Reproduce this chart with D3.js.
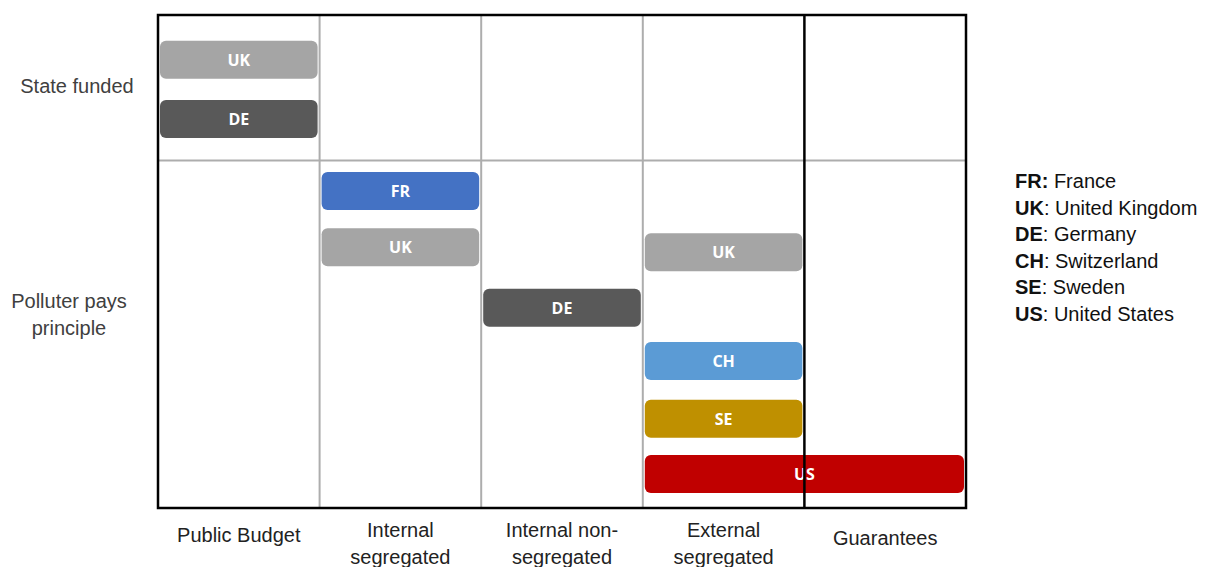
<!DOCTYPE html>
<html>
<head>
<meta charset="utf-8">
<script src="https://cdn.jsdelivr.net/npm/d3@7"></script>
<style>
  body { margin: 0; background: #fff; }
  text { font-family: "Liberation Sans", Arial, sans-serif; }
</style>
</head>
<body>
<div id="chart"></div>
<script>
// columns (mechanism) and rows (financing principle)
var columns = ["Public Budget", "Internal segregated", "Internal non-segregated", "External segregated", "Guarantees"];
var columnLines = [["Public Budget"], ["Internal", "segregated"], ["Internal non-", "segregated"], ["External", "segregated"], ["Guarantees"]];
var rowLabels = [["State funded"], ["Polluter pays", "principle"]];
var rowLabelPos = [1.45, 6.08];
var rowDivider = 2.95;

// bars: country, first column, last column, lane (vertical position)
var countries = ["UK", "DE", "FR", "UK", "DE", "UK", "CH", "SE", "US"];
var startCol  = [0, 0, 1, 1, 2, 3, 3, 3, 3];
var endCol    = [0, 0, 1, 1, 2, 3, 3, 3, 4];
var lanes     = [0.91, 2.11, 3.57, 4.71, 5.94, 4.81, 7.02, 8.19, 9.31];

var colorOf = {UK: "#a5a5a5", DE: "#595959", FR: "#4472c4", CH: "#5b9bd5", SE: "#bf9000", US: "#c00000"};

var legendCodes = ["FR:", "UK", "DE", "CH", "SE", "US"];
var legendNames = [" France", ": United Kingdom", ": Germany", ": Switzerland", ": Sweden", ": United States"];

var width = 1205, height = 567;
var svg = d3.select("#chart").append("svg")
    .attr("width", width)
    .attr("height", height);

var x = d3.scaleBand()
  .domain(columns)
  .range([158, 966])
  .padding(0);

var y = d3.scaleLinear()
  .domain([0, 10])
  .range([15, 508]);

var barH = 38;

// grey grid lines
svg.append("g")
  .selectAll("line")
  .data(columns.slice(1, 4))
  .enter()
  .append("line")
    .attr("x1", function(d) { return x(d); })
    .attr("x2", function(d) { return x(d); })
    .attr("y1", y(0))
    .attr("y2", y(10))
    .attr("stroke", "#adadad")
    .attr("stroke-width", 2);

svg.append("line")
  .attr("x1", x.range()[0])
  .attr("x2", x.range()[1])
  .attr("y1", y(rowDivider))
  .attr("y2", y(rowDivider))
  .attr("stroke", "#adadad")
  .attr("stroke-width", 2);

// bars
var bars = svg.append("g")
  .selectAll("g")
  .data(countries)
  .enter()
  .append("g");

bars.append("rect")
  .attr("x", function(d, i) { return x(columns[startCol[i]]) + 2; })
  .attr("width", function(d, i) { return x(columns[endCol[i]]) + x.bandwidth() - x(columns[startCol[i]]) - 4; })
  .attr("y", function(d, i) { return y(lanes[i]) - barH / 2; })
  .attr("height", barH)
  .attr("rx", 6)
  .attr("fill", function(d) { return colorOf[d]; });

bars.append("text")
  .attr("x", function(d, i) { return (x(columns[startCol[i]]) + x(columns[endCol[i]]) + x.bandwidth()) / 2; })
  .attr("y", function(d, i) { return y(lanes[i]); })
  .attr("dy", "0.36em")
  .attr("text-anchor", "middle")
  .style("font-family", "'Open Sans', sans-serif")
  .style("font-weight", "bold")
  .style("font-size", "16px")
  .attr("fill", "#fff")
  .text(function(d) { return d; });

// black frame and the line before Guarantees
svg.append("rect")
  .attr("x", x.range()[0])
  .attr("y", y(0))
  .attr("width", x.range()[1] - x.range()[0])
  .attr("height", y(10) - y(0))
  .attr("fill", "none")
  .attr("stroke", "#000")
  .attr("stroke-width", 2.5);

svg.append("line")
  .attr("x1", x("Guarantees"))
  .attr("x2", x("Guarantees"))
  .attr("y1", y(0))
  .attr("y2", y(10))
  .attr("stroke", "#000")
  .attr("stroke-width", 2.5);

// column labels
var colText = svg.append("g")
  .selectAll("text")
  .data(columnLines)
  .enter()
  .append("text")
    .attr("x", function(d, i) { return x(columns[i]) + x.bandwidth() / 2; })
    .attr("y", function(d, i) { return d.length > 1 ? 537 : (i === 0 ? 542 : 545); })
    .attr("text-anchor", "middle")
    .style("font-size", "20px")
    .attr("fill", "#222");

colText.selectAll("tspan")
  .data(function(d) { return d; })
  .enter()
  .append("tspan")
    .attr("x", function() { return d3.select(this.parentNode).attr("x"); })
    .attr("dy", function(d, i) { return i === 0 ? 0 : 27; })
    .text(function(d) { return d; });

// row labels
var rowText = svg.append("g")
  .selectAll("text")
  .data(rowLabels)
  .enter()
  .append("text")
    .attr("x", function(d, i) { return i === 0 ? 77 : 69; })
    .attr("y", function(d, i) { return y(rowLabelPos[i]) - (d.length - 1) * 13.5; })
    .attr("dy", "0.35em")
    .attr("text-anchor", "middle")
    .style("font-size", "20px")
    .attr("fill", "#404040");

rowText.selectAll("tspan")
  .data(function(d) { return d; })
  .enter()
  .append("tspan")
    .attr("x", function() { return d3.select(this.parentNode).attr("x"); })
    .attr("dy", function(d, i) { return i === 0 ? "0.35em" : 27; })
    .text(function(d) { return d; });

// legend
var legend = svg.append("g")
  .selectAll("text")
  .data(legendCodes)
  .enter()
  .append("text")
    .attr("x", 1015)
    .attr("y", function(d, i) { return 188 + i * 26.6; })
    .style("font-size", "20px")
    .attr("fill", "#111");

legend.append("tspan")
  .style("font-weight", "bold")
  .text(function(d) { return d; });

legend.append("tspan")
  .text(function(d, i) { return legendNames[i]; });
</script>
</body>
</html>
